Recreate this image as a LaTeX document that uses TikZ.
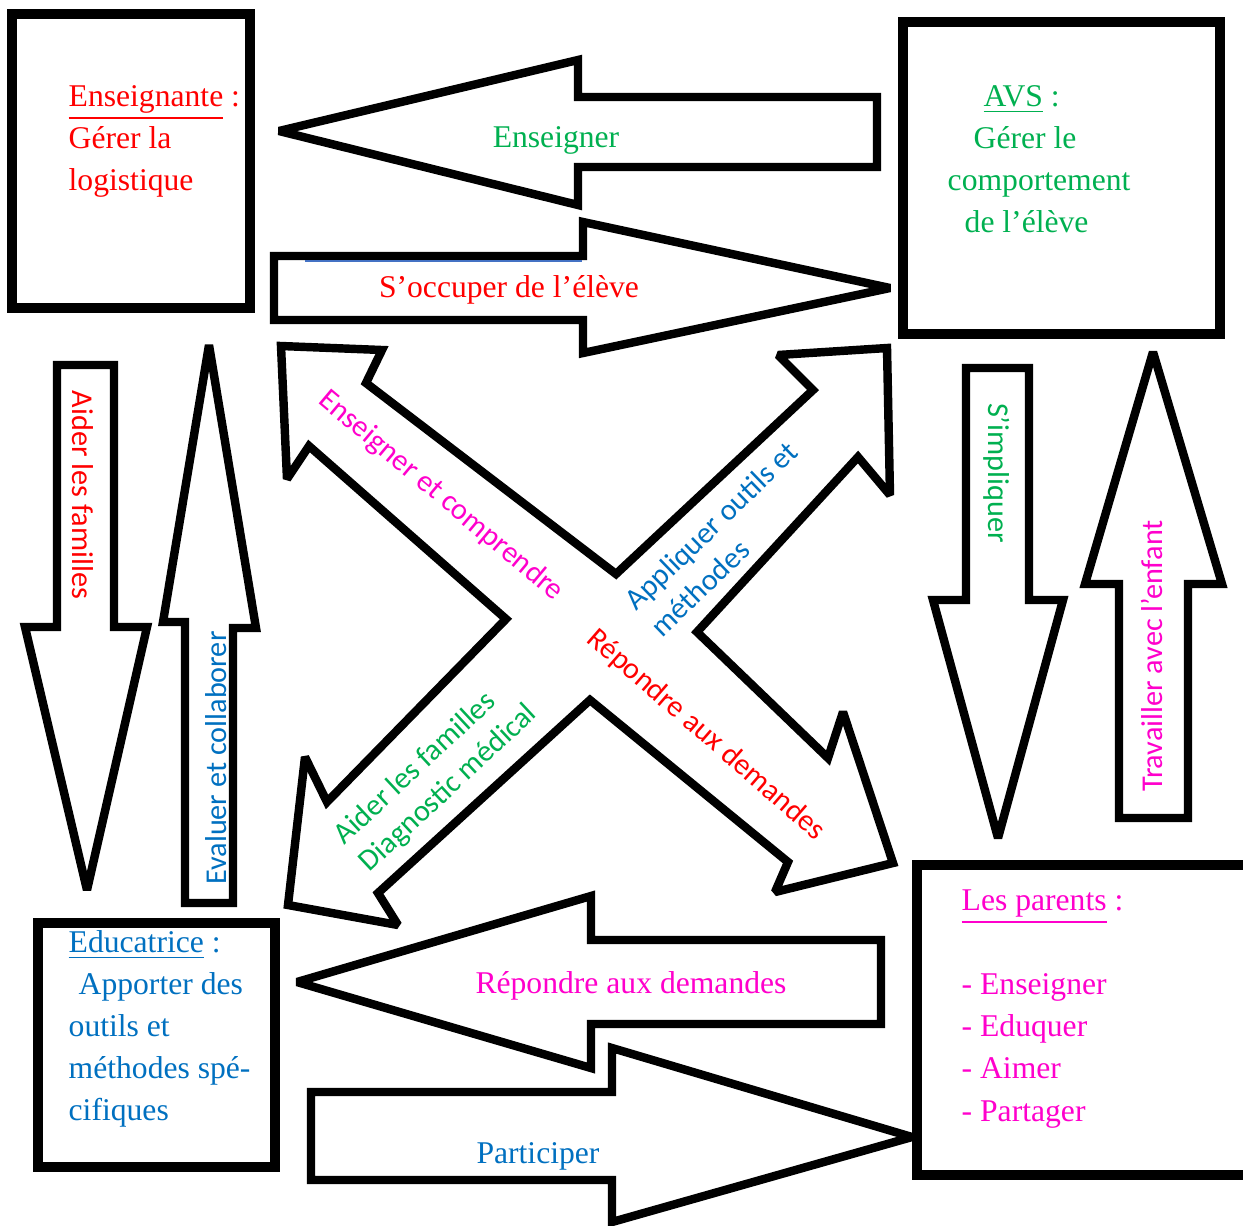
\documentclass[tikz,border=0pt]{standalone}
\usepackage{fontspec}
\setmainfont{Liberation Serif}
\newfontfamily\calibri{Carlito}
\usetikzlibrary{calc}

\definecolor{rouge}{RGB}{255,0,0}
\definecolor{vert}{RGB}{0,176,80}
\definecolor{bleu}{RGB}{0,112,192}
\definecolor{rose}{RGB}{255,0,204}
\definecolor{trait}{RGB}{68,114,196}

\tikzset{
  boite/.style={draw, line width=2.6pt, line join=miter},
  fleche/.style={draw, fill=white, line width=2.4pt, line join=miter, miter limit=2},
  serif/.style={font=\fontsize{9}{12}\selectfont, align=left, inner sep=0pt, anchor=north west},
  calib/.style={font=\calibri\fontsize{8.6}{10.5}\selectfont, inner sep=0pt},
}

\begin{document}
\begin{tikzpicture}[x=0.1mm, y=-0.1mm]
\useasboundingbox (0,0) rectangle (1243,1225);

% the X in the middle
\draw[fleche] (281,346) -- (382,350) -- (366,383) -- (616,574) -- (813,390)
  -- (778,355) -- (887,348) -- (890,495) -- (858,457) -- (697,632)
  -- (828,758) -- (843,712) -- (893,863) -- (775,892) -- (788,862)
  -- (590,700) -- (378,893) -- (398,925) -- (288,905) -- (305,757)
  -- (327,802) -- (506,619) -- (309,446) -- (287,479) -- cycle;

% horizontal arrows
\draw[fleche] (279,131) -- (578,60) -- (578,97) -- (877,97) -- (877,167)
  -- (578,167) -- (578,205) -- cycle;
\draw[fleche] (274,256) -- (583,256) -- (583,222) -- (890,288) -- (583,353)
  -- (583,320) -- (274,320) -- cycle;
\draw[trait, line width=0.5pt] (305,261) -- (582,261);
\draw[fleche] (297,982) -- (591,896) -- (591,940) -- (881,940) -- (881,1024)
  -- (591,1024) -- (591,1068) -- cycle;
\draw[fleche] (311,1092) -- (612,1092) -- (612,1048) -- (912,1137) -- (612,1222)
  -- (612,1180) -- (311,1180) -- cycle;

% vertical arrows
\draw[fleche] (57,365) -- (114,365) -- (114,627) -- (147,627) -- (87,890)
  -- (25,627) -- (57,627) -- cycle;
\draw[fleche] (209,345) -- (256,628) -- (233,628) -- (233,903) -- (185,903)
  -- (185,622) -- (163,622) -- cycle;
\draw[fleche] (966,368) -- (1029,368) -- (1029,600) -- (1063,600) -- (998,838)
  -- (933,600) -- (966,600) -- cycle;
\draw[fleche] (1153,352) -- (1222,584) -- (1188,584) -- (1188,818) -- (1119,818)
  -- (1119,584) -- (1085,584) -- cycle;

% boxes
\draw[boite] (12,14) rectangle (250,308);
\draw[boite] (903,22) rectangle (1220,334);
\draw[boite] (38,923) rectangle (275,1167);
\draw[boite] (917,865) rectangle (1260,1175);

\node[serif, text=rouge] (ens) at (68,76)
  {\strut\underline{Enseignante} :\\ Gérer la\\ logistique};
\node[serif, text=vert] (avs) at (947,76)
  {\strut\hspace*{3.6mm}\underline{AVS} :\\ \hspace*{2.6mm}Gérer le\\ comportement\\ \hspace*{1.7mm}de l’élève};
\node[serif, text=bleu] (edu) at (68,922)
  {\strut\underline{Educatrice} :\\ \hspace*{1mm}Apporter des\\ outils et\\ méthodes spé-\\ cifiques};
\node[serif, text=rose] (par) at (961,880)
  {\strut\underline{Les parents} :\\[12pt] - Enseigner\\ - Eduquer\\ - Aimer\\ - Partager};

% labels on the horizontal arrows
\node[font=\fontsize{9}{12}\selectfont, text=vert] (ens-avs) at (556,140) {Enseigner};
\node[font=\fontsize{9}{12}\selectfont, text=rouge] (avs-ens) at (509,290) {S’occuper de l’élève};
\node[font=\fontsize{9}{12}\selectfont, text=rose] (par-edu) at (631,986) {Répondre aux demandes};
\node[font=\fontsize{9}{12}\selectfont, text=bleu] (edu-par) at (538,1156) {Participer};

% labels on the vertical arrows
\node[calib, text=rouge, rotate=-90] (ens-edu) at (83,495) {Aider les familles};
\node[calib, text=bleu, rotate=90] (edu-ens) at (216,758) {Evaluer et collaborer};
\node[calib, text=vert, rotate=-90] (avs-par) at (997,473) {S’impliquer};
\node[calib, text=rose, rotate=90] (par-avs) at (1152,656) {Travailler avec l’enfant};

% labels on the X
\node[calib, text=rose, rotate=-40] (x-no) at (441,496) {Enseigner et comprendre};
\node[calib, text=bleu, rotate=44, align=left] (x-ne) at (724,539) {Appliquer outils et\\méthodes};
\node[calib, text=rouge, rotate=-41] (x-se) at (706,735) {Répondre aux demandes};
\node[calib, text=vert, rotate=43, align=left] (x-so) at (436,775) {Aider les familles\\Diagnostic médical};
\end{tikzpicture}
\end{document}
